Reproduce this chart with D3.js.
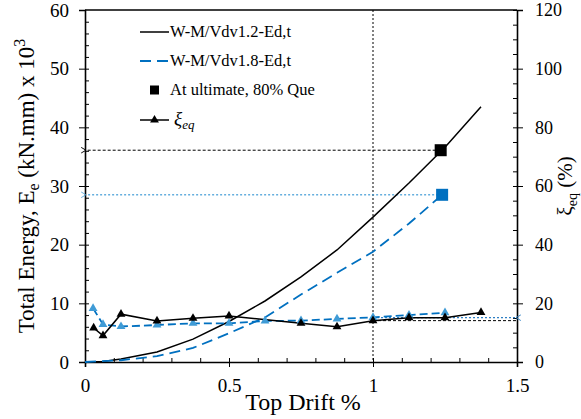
<!DOCTYPE html>
<html>
<head>
<meta charset="utf-8">
<script src="https://cdn.jsdelivr.net/npm/d3@7"></script>
<style>
  body { margin: 0; background: #fff; }
</style>
</head>
<body>
<div id="chart"></div>
<script>
// data

const energyDrift12 = [0, 0.0625, 0.125, 0.25, 0.375, 0.5, 0.625, 0.75, 0.875, 1.0, 1.125, 1.25, 1.375];
const energy12 = [0, 0.1, 0.5, 1.7, 3.9, 6.9, 10.4, 14.5, 19.1, 24.7, 30.5, 36.6, 43.5];

const energyDrift18 = [0, 0.125, 0.25, 0.375, 0.5, 0.625, 0.75, 0.875, 1.0, 1.125, 1.24];
const energy18 = [0, 0.3, 1.0, 2.4, 4.9, 7.6, 11.5, 15.2, 18.8, 23.6, 28.5];

const xiDrift12 = [0.03, 0.0625, 0.125, 0.25, 0.375, 0.5, 0.75, 0.875, 1.0, 1.125, 1.25, 1.375];
const xi12 = [11.6, 9.0, 16.3, 14.0, 14.9, 15.7, 13.2, 12.0, 14.1, 15.1, 15.1, 16.9];

const xiDrift18 = [0.028, 0.0625, 0.125, 0.25, 0.375, 0.5, 0.625, 0.75, 0.875, 1.0, 1.125, 1.25];
const xi18 = [18.3, 12.8, 12.1, 12.6, 13.2, 13.2, 14.0, 14.1, 14.7, 15.2, 16.0, 16.8];

// ultimate points [drift, energy]
const ultimate12 = [1.235, 36.1];
const ultimate18 = [1.24, 28.5];
// reference xi levels at right
const xiRef12 = 14.1;
const xiRef18 = 15.1;

const xTicks = [0, 0.5, 1, 1.5];
const yTicks = [0, 10, 20, 30, 40, 50, 60];
const y2Ticks = [0, 20, 40, 60, 80, 100, 120];

// config

const width = 581;
const height = 419;
const margin = { top: 10, bottom: 57, left: 85, right: 64 };
const serif = "Liberation Serif";

const blue = "#0070c0";
const lightBlue = "#3f9bd6";

const svg = d3.select("#chart")
  .append("svg")
  .attr("width", width)
  .attr("height", height)
  .attr("font-family", serif);

const defs = svg.append("defs");
function arrowMarker(id, color) {
  defs.append("marker")
    .attr("id", id)
    .attr("viewBox", "-1 -5 10 10")
    .attr("refX", 0)
    .attr("refY", 0)
    .attr("markerWidth", 8)
    .attr("markerHeight", 8)
    .attr("markerUnits", "userSpaceOnUse")
    .attr("orient", "auto-start-reverse")
    .append("path")
    .attr("d", "M6,-3.5L0,0L6,3.5")
    .attr("fill", "none")
    .attr("stroke", color)
    .attr("stroke-width", 1.2);
}
arrowMarker("arrBlack", "#000");
arrowMarker("arrBlue", lightBlue);
arrowMarker("arrBlue2", "#2e7fc4");

// scales

const x = d3.scaleLinear().domain([0, 1.5]).range([margin.left, width - margin.right]);
const y = d3.scaleLinear().domain([0, 60]).range([height - margin.bottom, margin.top]);
const y2 = d3.scaleLinear().domain([0, 120]).range([height - margin.bottom, margin.top]);

const x0 = x.range()[0], x1 = x.range()[1];
const yb = y.range()[0], yt = y.range()[1];

// axes

// minor ticks (inside)
svg.append("g")
  .attr("transform", `translate(0,${yb})`)
  .call(d3.axisTop(x).tickValues(d3.range(1, 15).map(d => d / 10)).tickSize(4).tickFormat(""))
  .call(g => g.select(".domain").remove());
svg.append("g")
  .attr("transform", `translate(${x0},0)`)
  .call(d3.axisRight(y).tickValues(d3.range(1, 30).map(d => d * 2)).tickSize(4).tickFormat(""))
  .call(g => g.select(".domain").remove());
svg.append("g")
  .attr("transform", `translate(${x1},0)`)
  .call(d3.axisLeft(y2).tickValues(d3.range(0, 121, 5)).tickSize(4).tickFormat(""))
  .call(g => g.select(".domain").remove());

// major ticks
function styleTicks(g, size) {
  g.attr("font-family", serif).attr("font-size", size);
  g.selectAll(".tick text")
    .attr("font-family", serif)
    .attr("font-size", size)
    .attr("fill", "#000");
}

svg.append("g")
  .attr("transform", `translate(0,${yb})`)
  .call(d3.axisBottom(x).tickValues(xTicks).tickSize(5).tickPadding(12).tickFormat(d3.format("")))
  .call(g => g.select(".domain").attr("stroke-width", 1.6))
  .call(g => styleTicks(g, 19));

svg.append("g")
  .attr("transform", `translate(${x0},0)`)
  .call(d3.axisLeft(y).tickValues(yTicks).tickSize(6).tickPadding(10))
  .call(g => g.select(".domain").attr("stroke-width", 1.6))
  .call(g => styleTicks(g, 19));

svg.append("g")
  .attr("transform", `translate(${x1},0)`)
  .call(d3.axisRight(y2).tickValues(y2Ticks).tickSize(6).tickPadding(12))
  .call(g => g.select(".domain").attr("stroke-width", 1.6))
  .call(g => styleTicks(g, 18));

// top border
svg.append("line")
  .attr("x1", x0).attr("x2", x1).attr("y1", yt).attr("y2", yt)
  .attr("stroke", "#000").attr("stroke-width", 1.6);

// reference lines

svg.append("line")
  .attr("x1", x(1)).attr("x2", x(1)).attr("y1", yt).attr("y2", yb)
  .attr("stroke", "#000").attr("stroke-width", 1).attr("stroke-dasharray", "2,2");

svg.append("line")
  .attr("x1", x(ultimate12[0])).attr("x2", x0 + 1)
  .attr("y1", y(ultimate12[1])).attr("y2", y(ultimate12[1]))
  .attr("stroke", "#000").attr("stroke-width", 1).attr("stroke-dasharray", "3,2")
  .attr("marker-end", "url(#arrBlack)");

svg.append("line")
  .attr("x1", x(ultimate18[0])).attr("x2", x0 + 1)
  .attr("y1", y(ultimate18[1])).attr("y2", y(ultimate18[1]))
  .attr("stroke", lightBlue).attr("stroke-width", 1.5).attr("stroke-dasharray", "2,2").attr("opacity", 0.8)
  .attr("marker-end", "url(#arrBlue)");

svg.append("line")
  .attr("x1", x(1)).attr("x2", x1 - 1)
  .attr("y1", y2(xiRef12)).attr("y2", y2(xiRef12))
  .attr("stroke", "#000").attr("stroke-width", 1).attr("stroke-dasharray", "3,2");

svg.append("line")
  .attr("x1", x(1)).attr("x2", x1 - 1)
  .attr("y1", y2(xiRef18)).attr("y2", y2(xiRef18))
  .attr("stroke", "#2e7fc4").attr("stroke-width", 1.3).attr("stroke-dasharray", "2,2")
  .attr("marker-end", "url(#arrBlue2)");

// energy lines

const lineE = d3.line().x(d => x(d[0])).y(d => y(d[1]));
const lineX = d3.line().x(d => x(d[0])).y(d => y2(d[1]));

svg.append("path")
  .attr("d", lineE(d3.zip(energyDrift12, energy12)))
  .attr("fill", "none").attr("stroke", "#000").attr("stroke-width", 1.5);

svg.append("path")
  .attr("d", lineE(d3.zip(energyDrift18, energy18)))
  .attr("fill", "none").attr("stroke", blue).attr("stroke-width", 1.8).attr("stroke-dasharray", "11,6");

// damping lines

svg.append("path")
  .attr("d", lineX(d3.zip(xiDrift18, xi18)))
  .attr("fill", "none").attr("stroke", blue).attr("stroke-width", 1.8).attr("stroke-dasharray", "8,4");

svg.append("path")
  .attr("d", lineX(d3.zip(xiDrift12, xi12)))
  .attr("fill", "none").attr("stroke", "#000").attr("stroke-width", 1.5);

const tri = d3.symbol().type(d3.symbolTriangle).size(34);

svg.selectAll("path.tri18")
  .data(d3.zip(xiDrift18, xi18))
  .join("path")
  .attr("class", "tri18")
  .attr("d", tri)
  .attr("transform", d => `translate(${x(d[0])},${y2(d[1])})`)
  .attr("fill", lightBlue);

svg.selectAll("path.tri12")
  .data(d3.zip(xiDrift12, xi12))
  .join("path")
  .attr("class", "tri12")
  .attr("d", tri)
  .attr("transform", d => `translate(${x(d[0])},${y2(d[1])})`)
  .attr("fill", "#000");

// ultimate squares

svg.append("rect")
  .attr("x", x(ultimate12[0]) - 6).attr("y", y(ultimate12[1]) - 6)
  .attr("width", 12).attr("height", 12).attr("fill", "#000");
svg.append("rect")
  .attr("x", x(ultimate18[0]) - 6).attr("y", y(ultimate18[1]) - 6)
  .attr("width", 12).attr("height", 12).attr("fill", blue);

// legend

const lg = svg.append("g").attr("transform", "translate(140,0)");
const legendY = [32, 61, 90, 120];

function addText(parent, size) {
  return parent.append("text")
    .attr("font-family", serif)
    .attr("font-size", size)
    .attr("fill", "#000");
}

lg.append("line").attr("x1", 0).attr("x2", 29).attr("y1", legendY[0]).attr("y2", legendY[0])
  .attr("stroke", "#000").attr("stroke-width", 1.5);
addText(lg, 16.5).attr("x", 30).attr("y", legendY[0] + 5).text("W-M/Vdv1.2-Ed,t");

lg.append("line").attr("x1", 0).attr("x2", 29).attr("y1", legendY[1]).attr("y2", legendY[1])
  .attr("stroke", blue).attr("stroke-width", 1.8).attr("stroke-dasharray", "11,6");
addText(lg, 16.5).attr("x", 30).attr("y", legendY[1] + 5).text("W-M/Vdv1.8-Ed,t");

lg.append("rect").attr("x", 10).attr("y", legendY[2] - 4.5).attr("width", 9).attr("height", 9).attr("fill", "#000");
addText(lg, 16.5).attr("x", 30).attr("y", legendY[2] + 5).text("At ultimate, 80% Que");

lg.append("line").attr("x1", 0).attr("x2", 29).attr("y1", legendY[3]).attr("y2", legendY[3])
  .attr("stroke", "#000").attr("stroke-width", 1.5);
lg.append("path").attr("d", tri).attr("transform", `translate(14.5,${legendY[3]})`).attr("fill", "#000");
const lgXi = addText(lg, 19).attr("x", 34).attr("y", legendY[3] + 5).attr("font-style", "italic");
lgXi.append("tspan").text("ξ");
lgXi.append("tspan").attr("dy", 4).attr("font-size", 13).text("eq");

// axis titles

addText(svg, 24)
  .attr("x", (x0 + x1) / 2 + 2)
  .attr("y", 410)
  .attr("text-anchor", "middle")
  .text("Top Drift %");

const yTitle = addText(svg, 23)
  .attr("transform", `translate(34,${(yt + yb) / 2}) rotate(-90)`)
  .attr("text-anchor", "middle");
yTitle.append("tspan").text("Total Energy, E");
yTitle.append("tspan").attr("dy", 5).attr("font-size", 16).text("e");
yTitle.append("tspan").attr("dy", -5).text(" (kN.mm) x 10");
yTitle.append("tspan").attr("dy", -9).attr("font-size", 16).text("3");

const y2Title = addText(svg, 21)
  .attr("transform", `translate(572,${(yt + yb) / 2}) rotate(-90)`)
  .attr("text-anchor", "middle");
y2Title.append("tspan").text("ξ");
y2Title.append("tspan").attr("dy", 5).attr("font-size", 14).text("eq");
y2Title.append("tspan").attr("dy", -5).text(" (%)");
</script>
</body>
</html>
